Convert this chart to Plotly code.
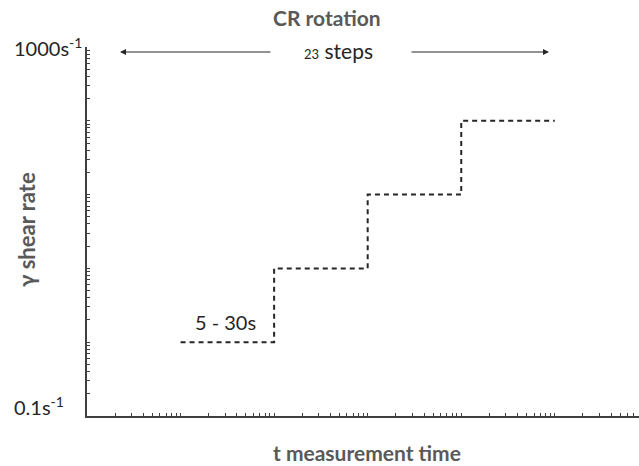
import numpy as np
import plotly.graph_objects as go

# Step profile: measurement time (s) at each step edge, shear rate (1/s) per step
time_edges = [10, 100, 1000, 10000, 100000]
shear_levels = [1, 10, 100, 1000, 1000]

title_text = "CR rotation"
x_title = "t measurement time"
y_title = "γ shear rate"
steps_label = "<span style='font-size:13px'>23</span> steps"
duration_label = "5 - 30s"
y_top_label = "1000s<sup>-1</sup>"
y_bottom_label = "0.1s<sup>-1</sup>"

FONT = "Lato"
GREY = "#595959"
DARK = "#262626"

fig = go.Figure()
fig.add_trace(go.Scatter(
    x=time_edges, y=shear_levels, mode="lines", line_shape="hv",
    line=dict(color=DARK, width=2, dash="5px,4px"),
    showlegend=False, hoverinfo="skip",
))

# minor log ticks (1..9 per decade)
x_ticks = [m * 10.0 ** d for d in range(0, 6) for m in range(1, 10)]
y_ticks = [m * 10.0 ** d for d in range(-1, 4) for m in range(1, 10)] + [1e4]

axis_common = dict(
    type="log", showgrid=False, zeroline=False, showline=True,
    linecolor="#404040", linewidth=1.5, ticks="inside", ticklen=3,
    tickwidth=1, tickcolor="#404040", showticklabels=False,
)
fig.update_xaxes(range=[0, 5.9], tickvals=x_ticks, **axis_common)
fig.update_yaxes(range=[-1, 4], tickvals=y_ticks, **axis_common)

def px_x(px):
    return (px - 87) / 552.0

def px_y(py):
    return (416 - py) / 369.0

annotations = [
    dict(text=title_text, x=px_x(327), y=px_y(17), font=dict(size=21, color=GREY, family=FONT, weight="bold")),
    dict(text=x_title, x=px_x(367), y=px_y(452), font=dict(size=21, color=GREY, family=FONT, weight="bold")),
    dict(text=y_title, x=px_x(26), y=px_y(230), textangle=-90, font=dict(size=22, color=GREY, family=FONT, weight="bold")),
    dict(text=steps_label, x=px_x(338), y=px_y(50), font=dict(size=21, color=DARK, family=FONT)),
    dict(text=duration_label, x=px_x(225), y=px_y(322), font=dict(size=20, color=DARK, family=FONT)),
    dict(text=y_top_label, x=px_x(12), y=px_y(47), xanchor="left", font=dict(size=20, color=DARK, family=FONT)),
    dict(text=y_bottom_label, x=px_x(12), y=px_y(406), xanchor="left", font=dict(size=20, color=DARK, family=FONT)),
]
for a in annotations:
    a.setdefault("xanchor", "center")
    fig.add_annotation(xref="paper", yref="paper", yanchor="middle", showarrow=False, **a)

# span arrows either side of the step count
for head, tail in [(120, 272), (549, 410)]:
    fig.add_annotation(
        xref="paper", yref="paper", x=px_x(head), y=px_y(52),
        ax=tail - head, ay=0, axref="pixel", ayref="pixel",
        showarrow=True, arrowhead=2, arrowsize=1.2, arrowwidth=1,
        arrowcolor=DARK, text="",
    )

fig.update_layout(
    width=639, height=466,
    margin=dict(l=87, r=0, t=47, b=50),
    plot_bgcolor="white", paper_bgcolor="white",
    font=dict(family=FONT),
)

fig.write_html("out.html")
